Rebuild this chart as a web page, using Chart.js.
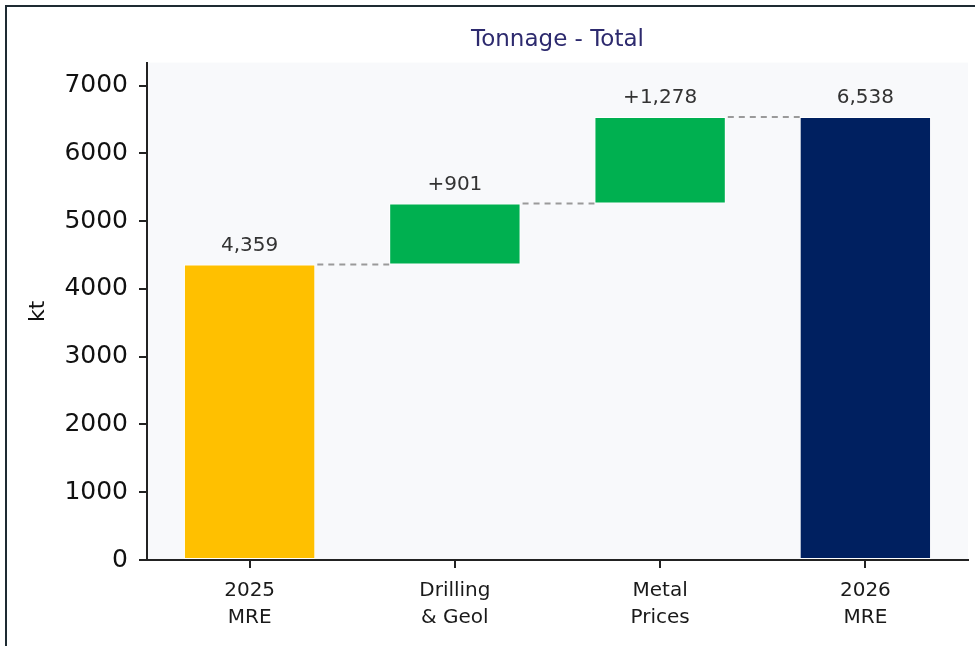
<!DOCTYPE html>
<html>
<head>
<meta charset="utf-8">
<script src="https://cdn.jsdelivr.net/npm/chart.js@4.4.1/dist/chart.umd.min.js"></script>
<style>
  body { margin: 0; background: #fff; }
  .frame { position: absolute; left: 5px; top: 5px; width: 980px; height: 650px; border-left: 2px solid #1e2b33; border-top: 2px solid #1e2b33; }
  #wrap { position: absolute; left: 0; top: 0; width: 975px; height: 646px; }
</style>
</head>
<body>
<div class="frame"></div>
<div id="wrap"><canvas id="waterfall"></canvas></div>
<script>
const categories = [['2025', 'MRE'], ['Drilling', '& Geol'], ['Metal', 'Prices'], ['2026', 'MRE']]
const steps = [4359, 901, 1278, 6538]
const stepTypes = ['total', 'delta', 'delta', 'total']
const valueLabels = ['4,359', '+901', '+1,278', '6,538']
const barColors = ['#FFC000', '#00B050', '#00B050', '#002060']
const yTicks = [0, 1000, 2000, 3000, 4000, 5000, 6000, 7000]
const yMax = 7340

// build floating bars [start, end]
let running = 0
const floating = steps.map((v, i) => {
    if (stepTypes[i] === 'total') {
        running = v
        return [0, v]
    }
    const start = running
    running = running + v
    return [start, running]
})

const plotBg = {
    id: 'plotBg',
    beforeDraw: (chart) => {
        const { ctx, chartArea } = chart
        ctx.save()
        ctx.fillStyle = '#f8f9fb'
        ctx.fillRect(chartArea.left, chartArea.top, chartArea.right - chartArea.left, chartArea.bottom - chartArea.top)
        ctx.restore()
    }
}

const connectorsAndLabels = {
    id: 'connectorsAndLabels',
    afterDatasetsDraw: (chart) => {
        const { ctx } = chart
        const y = chart.scales.y
        const bars = chart.getDatasetMeta(0).data
        ctx.save()
        ctx.strokeStyle = '#9a9a9a'
        ctx.lineWidth = 2
        ctx.setLineDash([6, 5])
        for (let i = 0; i < bars.length - 1; i++) {
            const level = y.getPixelForValue(floating[i][1])
            const x1 = bars[i].x + bars[i].width / 2
            const x2 = bars[i + 1].x - bars[i + 1].width / 2
            ctx.beginPath()
            ctx.moveTo(x1 + 2, level)
            ctx.lineTo(x2, level)
            ctx.stroke()
        }
        ctx.setLineDash([])
        ctx.fillStyle = '#333'
        ctx.font = '20px "DejaVu Sans"'
        ctx.textAlign = 'center'
        ctx.textBaseline = 'alphabetic'
        bars.forEach((bar, i) => {
            const top = y.getPixelForValue(Math.max(floating[i][0], floating[i][1]))
            ctx.fillText(valueLabels[i], bar.x, top - 14)
        })
        ctx.restore()
    }
}

Chart.defaults.font.family = '"DejaVu Sans"'

new Chart(document.getElementById('waterfall'), {
    type: 'bar',
    data: {
        labels: categories,
        datasets: [
            {
                data: floating,
                backgroundColor: barColors,
                borderColor: '#ffffff',
                borderWidth: 1,
                borderSkipped: false,
                barPercentage: 0.8,
                categoryPercentage: 0.8
            }
        ]
    },
    options: {
        responsive: true,
        maintainAspectRatio: false,
        animation: false,
        layout: { padding: { left: 0, right: 7, top: 0, bottom: 0 } },
        plugins: {
            legend: { display: false },
            tooltip: { enabled: false },
            title: {
                display: true,
                fullSize: false,
                text: 'Tonnage - Total',
                color: '#2d2a6e',
                font: { size: 23, weight: 'normal' },
                padding: { top: 26, bottom: 9 }
            }
        },
        scales: {
            x: {
                afterFit: (axis) => { axis.height = 86 },
                grid: { display: true, offset: false, drawOnChartArea: false, drawTicks: true, tickLength: 8, color: '#222', lineWidth: 2 },
                border: { display: true, color: '#222', width: 2 },
                ticks: { color: '#1a1a1a', font: { size: 20, lineHeight: 1.32 }, padding: 10, maxRotation: 0 }
            },
            y: {
                min: 0,
                max: yMax,
                afterFit: (axis) => { axis.width = 147 },
                afterBuildTicks: (axis) => { axis.ticks = yTicks.map(v => ({ value: v })) },
                grid: { display: true, drawOnChartArea: false, drawTicks: true, tickLength: 8, color: '#222', lineWidth: 2 },
                border: { display: true, color: '#222', width: 2 },
                ticks: { color: '#111', font: { size: 25 }, padding: 11, callback: (v) => String(v) },
                title: { display: true, text: 'kt', color: '#111', font: { size: 22 }, padding: { top: 25, bottom: 0 } }
            }
        }
    },
    plugins: [plotBg, connectorsAndLabels]
})
</script>
</body>
</html>
